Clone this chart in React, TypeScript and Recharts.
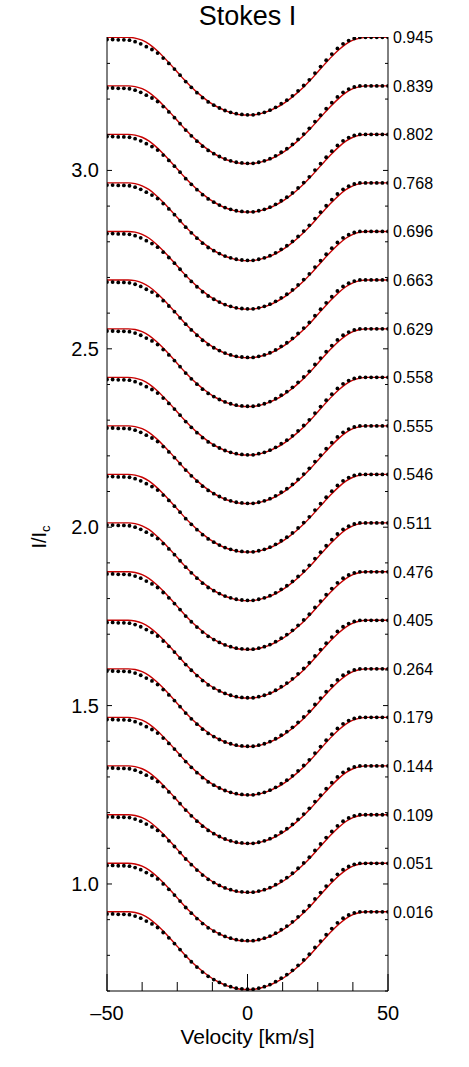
import React from 'react';
import { ComposedChart, Line, XAxis, YAxis } from 'recharts';

// rotational phases, bottom to top
const PHASES = ['0.016', '0.051', '0.109', '0.144', '0.179', '0.264', '0.405', '0.476', '0.511', '0.546',
  '0.555', '0.558', '0.629', '0.663', '0.696', '0.768', '0.802', '0.839', '0.945'];
// continuum level of each shifted profile
const CONTINUUM = [0.922, 1.058, 1.194, 1.331, 1.467, 1.603, 1.739, 1.875, 2.012, 2.148,
  2.284, 2.420, 2.556, 2.693, 2.829, 2.965, 3.101, 3.237, 3.373];

// model profile (red)
const MODEL_VEL = [-50, -47.5, -45, -42.5, -40, -37.5, -35, -32.5, -30, -27.5, -25, -22.5, -20, -17.5, -15, -12.5, -10, -7.5, -5, -2.5,
  0, 2.5, 5, 7.5, 10, 12.5, 15, 17.5, 20, 22.5, 25, 27.5, 30, 32.5, 35, 37.5, 40, 42.5, 45, 47.5, 50];
const MODEL_I = [1.000, 1.000, 1.000, 1.000, 0.998, 0.992, 0.981, 0.965, 0.946, 0.925, 0.903, 0.881, 0.861, 0.843, 0.827, 0.813, 0.802, 0.793, 0.787, 0.783,
  0.782, 0.783, 0.787, 0.793, 0.802, 0.813, 0.827, 0.843, 0.861, 0.881, 0.903, 0.925, 0.946, 0.965, 0.981, 0.992, 0.998, 1.000, 1.000, 1.000, 1.000];

// observed profile (dots)
const OBS_VEL = [-50, -48, -46, -44, -42, -40, -38, -36, -34, -32, -30, -28, -26, -24, -22, -20, -18, -16, -14, -12, -10, -8, -6, -4, -2,
  0, 2, 4, 6, 8, 10, 12, 14, 16, 18, 20, 22, 24, 26, 28, 30, 32, 34, 36, 38, 40, 42, 44, 46, 48, 50];
const OBS_I = [0.994, 0.994, 0.993, 0.993, 0.992, 0.988, 0.982, 0.974, 0.966, 0.956, 0.942, 0.927, 0.911, 0.894, 0.876, 0.860, 0.845, 0.831, 0.819, 0.810, 0.802, 0.795, 0.790, 0.786, 0.784,
  0.783, 0.783, 0.786, 0.790, 0.796, 0.804, 0.814, 0.824, 0.836, 0.850, 0.865, 0.881, 0.900, 0.918, 0.936, 0.953, 0.969, 0.982, 0.991, 0.997, 1.000, 1.000, 1.000, 1.000, 1.000, 1.000];

const X_TICKS = [-50, -37.5, -25, -12.5, 0, 12.5, 25, 37.5, 50];
const X_LABELS = [-50, 0, 50];
const Y_TICKS = [0.7, 0.8, 0.9, 1.0, 1.1, 1.2, 1.3, 1.4, 1.5, 1.6, 1.7, 1.8, 1.9, 2.0, 2.1, 2.2, 2.3, 2.4, 2.5, 2.6, 2.7, 2.8, 2.9, 3.0, 3.1, 3.2, 3.3];
const Y_LABELS = [1.0, 1.5, 2.0, 2.5, 3.0];

const FONT = '"Liberation Sans", Arial, Helvetica, sans-serif';
const near = (list: number[], v: number) => list.findIndex((l) => Math.abs(l - v) < 1e-6);

const modelSeries = CONTINUUM.map((c) => MODEL_VEL.map((v, i) => ({ v, y: c + MODEL_I[i] - 1 })));
const obsSeries = CONTINUUM.map((c) => OBS_VEL.map((v, i) => ({ v, y: c + OBS_I[i] - 1 })));
const rightTicks = [...Y_TICKS, ...CONTINUUM].sort((a, b) => a - b);

const BottomTick = (props: any) => {
  const { x, y, payload } = props;
  const major = near(X_LABELS, payload.value) >= 0;
  const val = payload.value;
  return (
    <g>
      <line x1={x} x2={x} y1={y} y2={y - (major ? 17 : 9)} stroke="#000" />
      {major && (
        <text x={x} y={y + 29} textAnchor="middle" fontSize={20} fontFamily={FONT} fill="#000">
          {val < 0 ? '\u2013' + Math.abs(val) : String(val)}
        </text>
      )}
    </g>
  );
};

const TopTick = (props: any) => {
  const { x, y, payload } = props;
  const major = near(X_LABELS, payload.value) >= 0;
  return <line x1={x} x2={x} y1={y} y2={y + (major ? 17 : 9)} stroke="#000" />;
};

const LeftTick = (props: any) => {
  const { x, y, payload } = props;
  const major = near(Y_LABELS, payload.value) >= 0;
  return (
    <g>
      <line x1={x} x2={x + (major ? 5 : 3)} y1={y} y2={y} stroke="#000" />
      {major && (
        <text x={x - 8} y={y + 7} textAnchor="end" fontSize={20} fontFamily={FONT} fill="#000">
          {payload.value.toFixed(1)}
        </text>
      )}
    </g>
  );
};

const RightTick = (props: any) => {
  const { x, y, payload } = props;
  const idx = near(CONTINUUM, payload.value);
  if (idx >= 0) {
    return (
      <text x={x + 5} y={y + 6} textAnchor="start" fontSize={16} fontFamily={FONT} fill="#000">
        {PHASES[idx]}
      </text>
    );
  }
  const major = near(Y_LABELS, payload.value) >= 0;
  return <line x1={x} x2={x - (major ? 5 : 3)} y1={y} y2={y} stroke="#000" />;
};

export default function App() {
  return (
    <div style={{ position: 'absolute', left: 0, top: 0, width: 469, height: 1060, fontFamily: FONT, color: '#000' }}>
      <ComposedChart width={469} height={1060} margin={{ top: 37, right: 0, bottom: 0, left: 0 }}>
        <XAxis xAxisId={0} dataKey="v" type="number" domain={[-50, 50]} ticks={X_TICKS} interval={0}
          allowDataOverflow height={69} tickSize={0} tickMargin={0} tickLine={false}
          axisLine={{ stroke: '#000' }} tick={<BottomTick />} />
        <XAxis xAxisId="top" orientation="top" dataKey="v" type="number" domain={[-50, 50]} ticks={X_TICKS}
          interval={0} allowDataOverflow height={0} tickSize={0} tickMargin={0} tickLine={false}
          axisLine={{ stroke: '#000' }} tick={<TopTick />} />
        <YAxis yAxisId={0} type="number" domain={[0.7, 3.374]} ticks={Y_TICKS} interval={0} allowDataOverflow
          width={107} tickSize={0} tickMargin={0} tickLine={false} axisLine={{ stroke: '#000' }} tick={<LeftTick />} />
        <YAxis yAxisId="right" orientation="right" type="number" domain={[0.7, 3.374]} ticks={rightTicks}
          interval={0} allowDataOverflow width={81} tickSize={0} tickMargin={0} tickLine={false}
          axisLine={{ stroke: '#000' }} tick={<RightTick />} />
        {obsSeries.map((s, i) => (
          <Line key={'o' + i} xAxisId={0} yAxisId={0} data={s} dataKey="y" stroke="none"
            dot={{ r: 1.9, fill: '#000', stroke: 'none' }} activeDot={false} isAnimationActive={false} />
        ))}
        {modelSeries.map((s, i) => (
          <Line key={'m' + i} xAxisId={0} yAxisId={0} data={s} dataKey="y" type="monotone" stroke="#c80000"
            strokeWidth={1.4} dot={false} activeDot={false} isAnimationActive={false} />
        ))}
      </ComposedChart>
      <div style={{ position: 'absolute', left: 107, width: 281, top: 3, textAlign: 'center', fontSize: 27, lineHeight: 1 }}>
        Stokes I
      </div>
      <div style={{ position: 'absolute', left: 107, width: 281, top: 1026, textAlign: 'center', fontSize: 21, lineHeight: 1 }}>
        Velocity [km/s]
      </div>
      <div style={{ position: 'absolute', left: 40, top: 537, transform: 'translate(-50%, -50%) rotate(-90deg)',
        fontSize: 20, lineHeight: 1, whiteSpace: 'nowrap' }}>
        I/I<span style={{ fontSize: 13, verticalAlign: -4 }}>c</span>
      </div>
    </div>
  );
}
